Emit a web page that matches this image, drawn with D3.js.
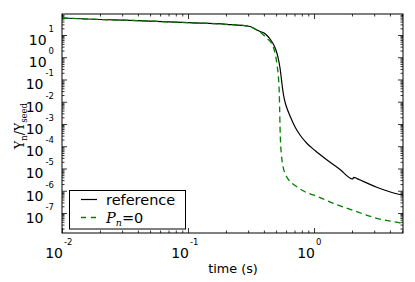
<!DOCTYPE html>
<html><head><meta charset="utf-8">
<script src="https://cdnjs.cloudflare.com/ajax/libs/d3/7.8.5/d3.min.js"></script>
<style>
html,body{margin:0;padding:0;background:#fff;}
svg{display:block;font-family:"DejaVu Sans",sans-serif;}
</style></head>
<body><svg id="c" width="415" height="282"></svg>
<script>
// ---- data ----
const timeRef = [0.01,0.02,0.05,0.1,0.2,0.31,0.34,0.373,0.401,0.431,0.456,0.477,0.495,0.5085,0.523,0.537,0.552,0.5675,0.583,0.605,0.645,0.707,0.774,0.88,1.018,1.268,1.608,2.02,2.069,2.194,3.14,4.994,5.18];
const yRef    = [58.1,49.8,42.4,35.7,30.3,24.1,18.6,14.4,12.3,8.57,5.66,3.74,2.35,1.47,0.752,0.329,0.0951,0.0275,0.012,5.81e-3,2.29e-3,7.33e-4,3.2e-4,1.33e-4,6.44e-5,2.41e-5,9.0e-6,3.37e-6,4.02e-6,3.52e-6,1.43e-6,6.44e-7,6.2e-7];
const timeP0  = [0.01,0.02,0.05,0.1,0.2,0.31,0.34,0.373,0.401,0.431,0.447,0.475,0.497,0.510,0.522,0.5295,0.5333,0.5374,0.5423,0.5493,0.5594,0.5707,0.594,0.625,0.729,0.875,1.0,1.423,2.182,3.14,4.97,5.18];
const yP0     = [58.1,49.8,42.4,35.7,30.3,24.1,18.4,13.6,9.5,6.28,5.37,2.89,1.08,0.405,0.1167,0.0274,5.24e-3,6.6e-4,1.4e-4,4.97e-5,1.96e-5,1.05e-5,5.37e-6,3.27e-6,1.52e-6,8.17e-7,6.31e-7,2.73e-7,1.14e-7,5.78e-8,3.44e-8,3.27e-8];
const xMajorExp = [-2,-1,0];
const yMajorExp = [1,0,-1,-2,-3,-4,-5,-6,-7];
const seriesNames = ["reference","P_n=0"];

const L=62,R=403,T=14,B=233;
const svg=d3.select("#c");
const x=d3.scaleLog().domain([0.01,5.08]).range([L,R]);
const y=d3.scaleLog().domain([1.26e-8,87.9]).range([B,T]);

function minors(scale){
  const [a,b]=scale.domain(); const out=[];
  for(let e=Math.floor(Math.log10(a));e<=Math.ceil(Math.log10(b));e++)
    for(let k=2;k<=9;k++){const v=k*Math.pow(10,e); if(v>=a&&v<=b) out.push(v);}
  return out;
}
const xMaj=xMajorExp.map(e=>Math.pow(10,e)), yMaj=yMajorExp.map(e=>Math.pow(10,e));
const xMin=minors(x), yMin=minors(y);

function addAxis(gen,tx,ty,vals,size){
  const g=svg.append("g").attr("transform",`translate(${tx},${ty})`)
    .call(gen.tickValues(vals).tickSize(size).tickFormat(""));
  g.select(".domain").remove();
  g.selectAll(".tick line").attr("stroke","#000").attr("stroke-width",0.8);
}
[[xMaj,-5],[xMin,-2.5]].forEach(([v,s])=>{
  addAxis(d3.axisBottom(x),0,B,v,s);
  addAxis(d3.axisTop(x),0,T,v,s);
});
[[yMaj,-5],[yMin,-2.5]].forEach(([v,s])=>{
  addAxis(d3.axisLeft(y),L,0,v,s);
  addAxis(d3.axisRight(y),R,0,v,s);
});

svg.append("clipPath").attr("id","clip").append("rect").attr("x",L).attr("y",T).attr("width",R-L).attr("height",B-T);

const line=d3.line().x(d=>x(d[0])).y(d=>y(d[1])).curve(d3.curveMonotoneX);
const g=svg.append("g").attr("clip-path","url(#clip)");
g.append("path").attr("d",line(timeRef.map((t,i)=>[t,yRef[i]])))
  .attr("fill","none").attr("stroke","#000").attr("stroke-width",1.2);
g.append("path").attr("d",line(timeP0.map((t,i)=>[t,yP0[i]])))
  .attr("fill","none").attr("stroke","#008000").attr("stroke-width",1.3).attr("stroke-dasharray","6,4");

svg.append("rect").attr("x",L).attr("y",T).attr("width",R-L).attr("height",B-T)
  .attr("fill","none").attr("stroke","#000").attr("stroke-width",1);

yMajorExp.forEach(e=>{
  const py=y(Math.pow(10,e));
  const t=svg.append("text").attr("x",54).attr("y",py+10).attr("text-anchor","end")
    .attr("font-size",14).attr("fill","#000");
  t.append("tspan").text("10");
  t.append("tspan").attr("dx",2).attr("dy",-13).attr("font-size",8.5).text(String(e));
});
xMajorExp.forEach(e=>{
  const px=x(Math.pow(10,e));
  svg.append("text").attr("x",px+1).attr("y",258).attr("text-anchor","end")
    .attr("font-size",14).text("10");
  svg.append("text").attr("x",px+2).attr("y",245).attr("text-anchor","start")
    .attr("font-size",8.5).text(String(e));
});
svg.append("text").attr("x",233).attr("y",273).attr("text-anchor","middle")
  .attr("font-size",12.8).text("time (s)");

const yl=svg.append("text").attr("transform","translate(24,126) rotate(-90)")
  .attr("text-anchor","middle").attr("font-family","'DejaVu Serif',serif").attr("font-size",12.5);
yl.append("tspan").text("Y");
yl.append("tspan").attr("font-size",8.5).attr("dy",3).text("n");
yl.append("tspan").attr("dy",-3).text("/Y");
yl.append("tspan").attr("font-size",8.5).attr("dy",3).text("seed");

const lg=svg.append("g");
lg.append("rect").attr("x",69.5).attr("y",190.5).attr("width",116).attr("height",38.5)
  .attr("fill","#fff").attr("stroke","#000").attr("stroke-width",1);
lg.append("line").attr("x1",81).attr("x2",97).attr("y1",199.5).attr("y2",199.5)
  .attr("stroke","#000").attr("stroke-width",1.2);
lg.append("text").attr("x",106).attr("y",205).attr("font-size",14.5).text(seriesNames[0]);
lg.append("line").attr("x1",81).attr("x2",97).attr("y1",217.5).attr("y2",217.5)
  .attr("stroke","#008000").attr("stroke-width",1.3).attr("stroke-dasharray","5,5");
const t2=lg.append("text").attr("x",106).attr("y",222.5).attr("font-size",14.5);
t2.append("tspan").attr("font-family","'DejaVu Serif',serif").attr("font-style","italic").text("P");
t2.append("tspan").attr("font-family","'DejaVu Serif',serif").attr("font-style","italic").attr("font-size",9.5).attr("dy",3).text("n");
t2.append("tspan").attr("dy",-3).text("=0");
</script></body></html>
